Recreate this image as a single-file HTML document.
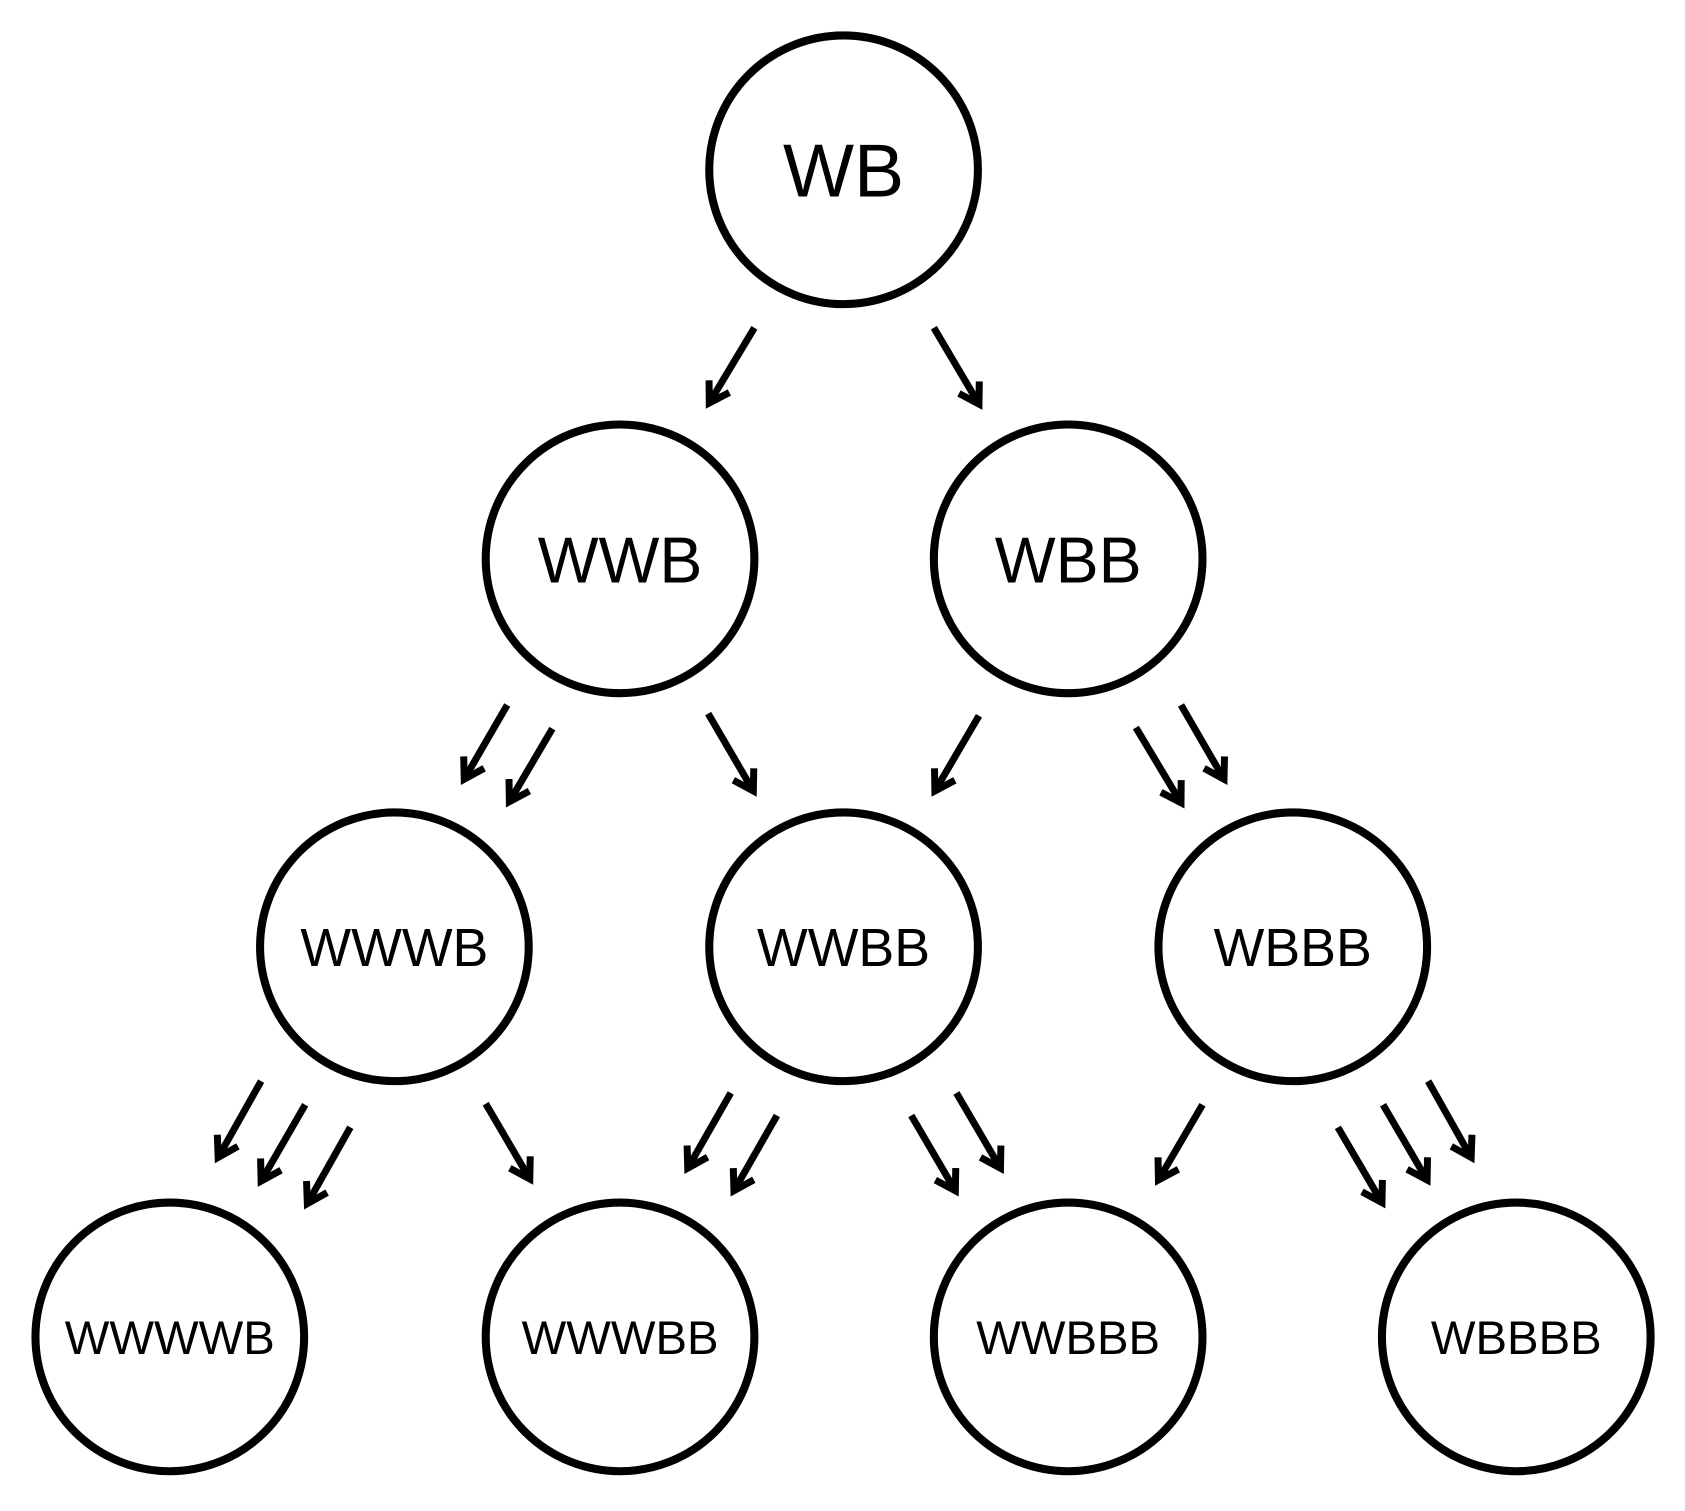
<!DOCTYPE html>
<html><head><meta charset="utf-8"><style>
html,body{margin:0;padding:0;background:#fff;}
svg{display:block;}
text{font-family:"Liberation Sans",sans-serif;fill:#000;text-anchor:middle;}
</style></head><body>
<svg width="1685" height="1511" viewBox="0 0 1568 1406" preserveAspectRatio="none">
<defs>
<marker id="a" markerUnits="userSpaceOnUse" markerWidth="60" markerHeight="60" refX="30" refY="30" orient="auto" viewBox="0 0 60 60">
<path d="M12,19 L30,30 L12,41" fill="none" stroke="#000" stroke-width="6.5" stroke-linecap="butt" stroke-linejoin="miter"/>
</marker>
</defs>
<g fill="none" stroke="#000" stroke-width="7.5">
<circle cx="785" cy="158" r="125"/>
<circle cx="577" cy="520" r="125"/>
<circle cx="994" cy="520" r="125"/>
<circle cx="367" cy="881" r="125"/>
<circle cx="785" cy="881" r="125"/>
<circle cx="1203" cy="881" r="125"/>
<circle cx="158" cy="1244" r="125"/>
<circle cx="577" cy="1244" r="125"/>
<circle cx="994" cy="1244" r="125"/>
<circle cx="1411" cy="1244" r="125"/>
</g>
<g stroke="#000" stroke-width="6.5" marker-end="url(#a)">
<line x1="702" y1="305" x2="660" y2="375"/>
<line x1="869" y1="305" x2="911" y2="376"/>
<line x1="472" y1="656" x2="432" y2="725"/>
<line x1="514" y1="678" x2="474" y2="746"/>
<line x1="659" y1="664" x2="701" y2="736"/>
<line x1="911" y1="666" x2="870" y2="736"/>
<line x1="1057" y1="677" x2="1099" y2="747"/>
<line x1="1099" y1="656" x2="1139" y2="725"/>
<line x1="243" y1="1006" x2="203" y2="1077"/>
<line x1="284" y1="1028" x2="243" y2="1099"/>
<line x1="326" y1="1049" x2="286" y2="1120"/>
<line x1="452" y1="1027" x2="493" y2="1097"/>
<line x1="680" y1="1017" x2="640" y2="1087"/>
<line x1="723" y1="1038" x2="683" y2="1108"/>
<line x1="848" y1="1038" x2="889" y2="1108"/>
<line x1="890" y1="1017" x2="931" y2="1087"/>
<line x1="1119" y1="1028" x2="1078" y2="1098"/>
<line x1="1245" y1="1049" x2="1286" y2="1119"/>
<line x1="1287" y1="1028" x2="1328" y2="1098"/>
<line x1="1329" y1="1006" x2="1369" y2="1077"/>
</g>
<text x="785" y="183" font-size="70">WB</text>
<text x="577" y="542" font-size="60">WWB</text>
<text x="994" y="542" font-size="60">WBB</text>
<text x="367" y="899" font-size="50">WWWB</text>
<text x="785" y="899" font-size="50">WWBB</text>
<text x="1203" y="899" font-size="50">WBBB</text>
<text x="158" y="1260" font-size="44">WWWWB</text>
<text x="577" y="1260" font-size="44">WWWBB</text>
<text x="994" y="1260" font-size="44">WWBBB</text>
<text x="1411" y="1260" font-size="44">WBBBB</text>
</svg>
</body></html>
